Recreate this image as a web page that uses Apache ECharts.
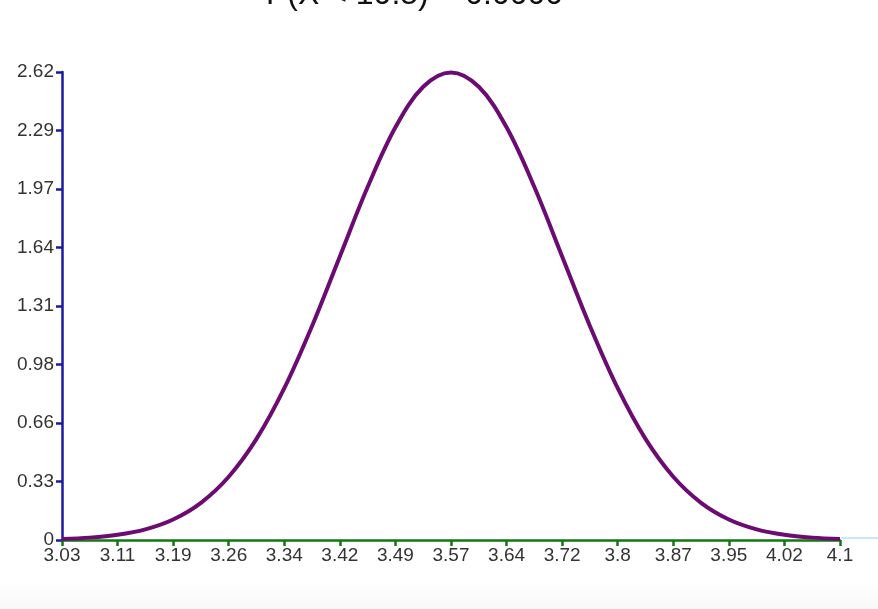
<!DOCTYPE html>
<html>
<head>
<meta charset="utf-8">
<script src="https://cdn.jsdelivr.net/npm/echarts@6/dist/echarts.min.js"></script>
<style>
html,body{margin:0;padding:0;background:#fff;}
#wrap{position:relative;width:878px;height:609px;background:linear-gradient(to bottom,#ffffff 0px,#ffffff 582px,#f8f8f8 609px);}
#chart{position:absolute;left:0;top:0;width:878px;height:609px;}
</style>
</head>
<body>
<div id="wrap"><div id="chart"></div></div>
<script>
// Title text (partially cut off at the top in the reference)
const titleText = "P(X < 10.5) = 0.0000";

// Curve points: x values and density values
const xValues = [3.0342, 3.0723, 3.1104, 3.1485, 3.1866, 3.2247, 3.2628, 3.3009, 3.3390, 3.3771,
                 3.4152, 3.4533, 3.4914, 3.5295, 3.5676, 3.6057, 3.6438, 3.6819, 3.7200, 3.7581,
                 3.7962, 3.8343, 3.8724, 3.9105, 3.9486, 3.9867, 4.0248, 4.0629, 4.1010];
const yValues = [0.0057, 0.0133, 0.0291, 0.0597, 0.1150, 0.2083, 0.3543, 0.5661, 0.8499, 1.1985,
                 1.5877, 1.9760, 2.3102, 2.5372, 2.6177, 2.5372, 2.3102, 1.9760, 1.5877, 1.1985,
                 0.8499, 0.5661, 0.3543, 0.2083, 0.1150, 0.0597, 0.0291, 0.0133, 0.0057];

// X axis ticks and labels
const xTickValues = [3.0342, 3.1104, 3.1866, 3.2628, 3.3390, 3.4152, 3.4914, 3.5676,
                     3.6438, 3.7200, 3.7962, 3.8724, 3.9486, 4.0248, 4.1010];
const xTickLabels = ["3.03", "3.11", "3.19", "3.26", "3.34", "3.42", "3.49", "3.57",
                     "3.64", "3.72", "3.8", "3.87", "3.95", "4.02", "4.1"];

// Y axis ticks and labels
const yTickValues = [0, 0.3275, 0.655, 0.9825, 1.31, 1.6375, 1.965, 2.2925, 2.62];
const yTickLabels = ["0", "0.33", "0.66", "0.98", "1.31", "1.64", "1.97", "2.29", "2.62"];

const chart = echarts.init(document.getElementById('chart'), null, {renderer: 'canvas'});

function nearestLabel(values, labels, v) {
  let best = 0, bd = Infinity;
  for (let i = 0; i < values.length; i++) {
    const d = Math.abs(values[i] - v);
    if (d < bd) { bd = d; best = i; }
  }
  return labels[best];
}

const xMin = xTickValues[0], xMax = xTickValues[xTickValues.length - 1];
const yMin = yTickValues[0], yMax = yTickValues[yTickValues.length - 1];

const option = {
  animation: false,
  backgroundColor: 'transparent',
  title: {
    text: titleText,
    left: 266,
    top: -21,
    padding: 0,
    textStyle: {fontFamily: 'Liberation Sans', fontSize: 32, fontWeight: 'normal', color: '#111'}
  },
  grid: {left: 62, right: 38, top: 72, bottom: 69, containLabel: false},
  xAxis: {
    type: 'value',
    min: xMin,
    max: xMax,
    axisLine: {show: true, onZero: false, lineStyle: {color: '#127812', width: 2.5}},
    axisTick: {show: true, length: 6, inside: false, customValues: xTickValues, lineStyle: {color: '#127812', width: 2.5}},
    axisLabel: {
      show: true, customValues: xTickValues, margin: 6,
      fontFamily: 'Liberation Sans', fontSize: 19, color: '#333',
      formatter: v => nearestLabel(xTickValues, xTickLabels, v)
    },
    splitLine: {show: false}
  },
  yAxis: {
    type: 'value',
    min: yMin,
    max: yMax,
    axisLine: {show: true, onZero: false, lineStyle: {color: '#1a1aa0', width: 2.5}},
    axisTick: {show: true, length: 6, inside: false, customValues: yTickValues, lineStyle: {color: '#1a1aa0', width: 2.5}},
    axisLabel: {
      show: true, customValues: yTickValues, margin: 8,
      fontFamily: 'Liberation Sans', fontSize: 19, color: '#333',
      formatter: v => nearestLabel(yTickValues, yTickLabels, v)
    },
    splitLine: {show: false}
  },
  series: [{
    type: 'line',
    data: xValues.map((x, i) => [x, yValues[i]]),
    smooth: 0.35,
    showSymbol: false,
    symbol: 'none',
    lineStyle: {color: '#6c0c72', width: 4},
    z: 3
  }]
};
chart.setOption(option);

// light blue extension of the baseline to the right edge
const p = chart.convertToPixel({gridIndex: 0}, [xMax, yMin]);
chart.setOption({
  graphic: [{
    type: 'line',
    shape: {x1: p[0] + 1, y1: p[1] - 2, x2: 878, y2: p[1] - 2},
    style: {stroke: '#b8e0f0', lineWidth: 1.5},
    silent: true
  }]
});
</script>
</body>
</html>
